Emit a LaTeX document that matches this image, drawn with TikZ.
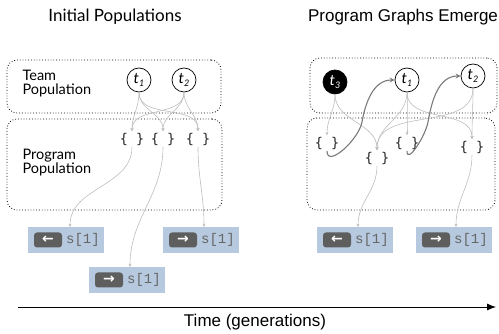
\documentclass[tikz,border=0pt]{standalone}
\usepackage{fontspec}
\setmainfont{Lato}
\newfontfamily\arialfont{Liberation Sans}
\newfontfamily\codefont{Liberation Mono}
\newfontfamily\bracefont{DejaVu Sans Mono}
\newfontfamily\symfont{DejaVu Sans}
\usetikzlibrary{arrows.meta}
\definecolor{actblue}{HTML}{B6C9DF}
\definecolor{btngray}{HTML}{5E5E5E}
\definecolor{linkgray}{HTML}{BDBDBD}
\definecolor{loopgray}{HTML}{7A7A7A}
\newcommand{\tname}[1]{\textit{t}\raisebox{-0.45ex}{\fontsize{9}{9}\selectfont\itshape #1}}

\begin{document}
\begin{tikzpicture}[x=1pt,y=1pt,
    popbox/.style={draw,dotted,line width=0.8pt,rounded corners=10pt,inner sep=0pt},
    team/.style={circle,draw,line width=0.7pt,minimum size=24pt,inner sep=0pt,font=\fontsize{15}{15}\selectfont},
    prog/.style={inner sep=1.5pt,text=black!85,font=\bracefont\fontsize{13.5}{14}\selectfont},
    actbox/.style={fill=actblue,minimum width=76pt,minimum height=26pt,inner sep=0pt},
    btn/.style={fill=btngray,rounded corners=3pt,minimum width=28pt,minimum height=15pt,inner sep=0pt,text=white,font=\symfont\bfseries\fontsize{14}{14}\selectfont},
    act/.style={text=black!60,font=\codefont\fontsize{14}{14}\selectfont},
    link/.style={draw=linkgray,line width=0.6pt,-{Stealth[length=3pt,width=3pt]}},
    loop/.style={draw=loopgray,line width=1.1pt,-{Stealth[length=5pt,width=5pt]}}]
  \useasboundingbox (0,0) rectangle (499,-334);

  % Titles
  \node[font=\fontsize{17}{19}\selectfont] (titleL) at (115,-17) {Initial Populations};
  \node[font=\arialfont\fontsize{17}{19}\selectfont] (titleR) at (403,-17) {Program Graphs Emerge};

  % Left: initial populations
  \node[popbox,minimum width=214pt,minimum height=53pt] (teamL) at (114,-86.5) {};
  \node[popbox,minimum width=215pt,minimum height=91pt] (progL) at (114.5,-164.5) {};
  \node[anchor=west,align=left,font=\fontsize{14.5}{14}\selectfont] (teamtxt) at (19,-84) {Team\\Population};
  \node[anchor=west,align=left,font=\fontsize{14.5}{14}\selectfont] (progtxt) at (19,-163) {Program\\Population};

  \node[team] (lt1) at (139,-80) {\tname{1}};
  \node[team] (lt2) at (184,-80) {\tname{2}};

  \node[prog] (lp1) at (132,-139) {\{ \}};
  \node[prog] (lp2) at (163,-139) {\{ \}};
  \node[prog] (lp3) at (198,-139) {\{ \}};

  \node[actbox] (la1) at (66,-240) {};
  \node[btn] (lb1) at ([xshift=-18pt]la1.center) {←};
  \node[act] (ls1) at ([xshift=17pt]la1.center) {s[1]};
  \node[actbox] (la2) at (201,-240) {};
  \node[btn] (lb2) at ([xshift=-18pt]la2.center) {→};
  \node[act] (ls2) at ([xshift=17pt]la2.center) {s[1]};
  \node[actbox] (la3) at (127,-280) {};
  \node[btn] (lb3) at ([xshift=-18pt]la3.center) {→};
  \node[act] (ls3) at ([xshift=17pt]la3.center) {s[1]};

  \foreach \t in {lt1,lt2}
    \foreach \p in {lp1,lp2,lp3}
      \draw[link] (\t.south) to[out=-90,in=90] (\p.north);
  \draw[link] (lp1.south) to[out=-90,in=90] ([xshift=4pt]la1.north);
  \draw[link] (lp2.south) to[out=-90,in=90] ([xshift=3pt]la3.north);
  \draw[link] (lp3.south) to[out=-90,in=90] ([xshift=3pt]la2.north);

  % Right: program graphs emerge
  \node[popbox,minimum width=187pt,minimum height=55pt] (teamR) at (403.5,-85.5) {};
  \node[popbox,minimum width=188pt,minimum height=92pt] (progR) at (401,-164) {};

  \node[team,fill=black,text=white] (rt3) at (335,-82) {\tname{3}};
  \node[team] (rt1) at (407,-80) {\tname{1}};
  \node[team] (rt2) at (473,-76) {\tname{2}};

  \node[prog] (rp1) at (327,-143) {\{ \}};
  \node[prog] (rp2) at (377,-158) {\{ \}};
  \node[prog] (rp3) at (407,-143) {\{ \}};
  \node[prog] (rp4) at (472,-147) {\{ \}};

  \node[actbox] (ra1) at (355,-240) {};
  \node[btn] (rb1) at ([xshift=-18pt]ra1.center) {←};
  \node[act] (rs1) at ([xshift=17pt]ra1.center) {s[1]};
  \node[actbox] (ra2) at (454,-240) {};
  \node[btn] (rb2) at ([xshift=-18pt]ra2.center) {→};
  \node[act] (rs2) at ([xshift=17pt]ra2.center) {s[1]};

  \draw[link] (rt3.south) to[out=-90,in=90] (rp1.north);
  \draw[link] (rt3.south) to[out=-90,in=90] (rp2.north);
  \draw[link] (rt1.south) to[out=-90,in=90] (rp2.north);
  \draw[link] (rt1.south) to[out=-90,in=90] (rp3.north);
  \draw[link] (rt1.south) to[out=-90,in=90] (rp4.north);
  \draw[link] (rt2.south) to[out=-90,in=90] (rp2.north);
  \draw[link] (rt2.south) to[out=-90,in=90] (rp4.north);
  \draw[link] (rp2.south) to[out=-90,in=90] ([xshift=3pt]ra1.north);
  \draw[link] (rp4.south) to[out=-90,in=90] ([xshift=2pt]ra2.north);

  \draw[loop] (rp1.south) to[out=-90,in=-100] (362,-122) to[out=80,in=180] (rt1.west);
  \draw[loop] (rp3.south) to[out=-90,in=-100] (428,-122) to[out=80,in=180] (rt2.west);

  % Time axis
  \coordinate (tstart) at (18,-307);
  \coordinate (tend) at (496,-307);
  \draw[line width=0.8pt,-{Latex[length=9pt,width=7pt]}] (tstart) -- (tend);
  \node[font=\arialfont\fontsize{17}{19}\selectfont] (timetxt) at (255,-322) {Time (generations)};
\end{tikzpicture}
\end{document}
